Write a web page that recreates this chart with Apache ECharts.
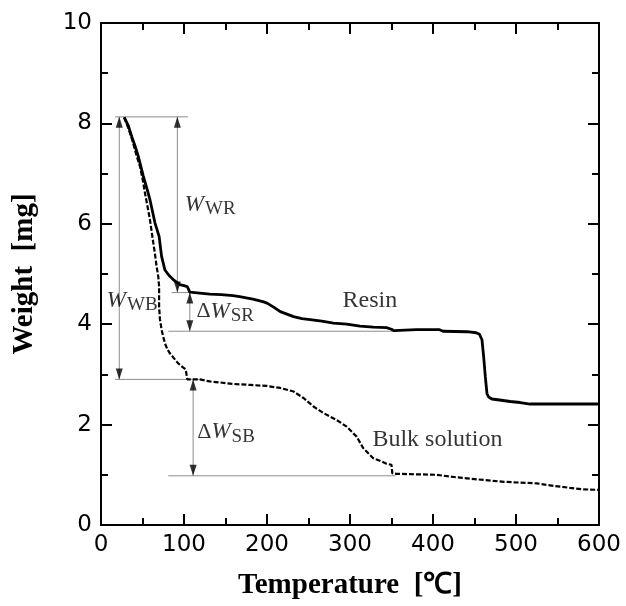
<!DOCTYPE html>
<html><head><meta charset="utf-8">
<script src="https://cdn.jsdelivr.net/npm/echarts@6/dist/echarts.min.js"></script>
<style>html,body{margin:0;padding:0;background:#fff}#c{width:626px;height:606px}</style>
</head><body><div id="c"></div>
<script>
// Temperature [°C], Weight [mg]
const resin = [[28,8.12],[33,7.95],[37,7.74],[41,7.55],[45,7.34],[51,6.95],[55,6.72],[59,6.48],[65,6.02],[70,5.75],[73,5.35],[77,5.08],[82,4.97],[87,4.89],[95,4.79],[100,4.77],[104,4.75],[107,4.64],[119,4.62],[131,4.6],[145,4.59],[159,4.57],[167,4.55],[183,4.5],[195,4.45],[200,4.42],[208,4.34],[216,4.25],[224,4.2],[232,4.15],[242,4.11],[252,4.09],[266,4.06],[280,4.02],[296,4.0],[312,3.96],[328,3.94],[344,3.93],[350,3.9],[353,3.87],[380,3.89],[408,3.89],[412,3.86],[441,3.85],[452,3.83],[456,3.8],[459,3.69],[461,3.36],[463,2.96],[465,2.62],[467,2.55],[471,2.51],[480,2.49],[493,2.46],[505,2.44],[517,2.41],[560,2.41],[600,2.41]];
const bulk = [[28,8.12],[33,7.9],[38,7.65],[43,7.35],[47,7.14],[50,6.9],[53,6.61],[56,6.35],[59,6.08],[61,5.85],[63,5.62],[65,5.4],[67,5.15],[69,4.95],[70,4.75],[70,4.35],[71,4.1],[73,3.89],[75,3.75],[77,3.62],[80,3.5],[83,3.42],[88,3.32],[93,3.22],[98,3.15],[102,3.1],[104,3.08],[104,2.9],[119,2.9],[131,2.86],[143,2.84],[159,2.81],[180,2.79],[200,2.77],[216,2.73],[232,2.66],[244,2.53],[256,2.36],[268,2.23],[284,2.09],[296,1.96],[308,1.76],[316,1.53],[328,1.33],[336,1.28],[344,1.22],[350,1.2],[351,1.03],[356,1.02],[380,1.01],[404,1.0],[428,0.95],[453,0.91],[485,0.86],[525,0.83],[545,0.78],[565,0.74],[581,0.71],[600,0.7]];
// annotation geometry in data units
const arrows = [[22,8.13,2.9],[92,8.13,4.63],[107,4.63,3.86],[111,2.9,0.98]]; // [T, Wtop, Wbottom]
const guides = [[17,105,8.13],[85,120,4.63],[81,352,3.86],[17,120,2.9],[81,355,0.98]]; // [T1, T2, W]
const labels = [
  {pos:[101,6.38], parts:[['w','W'],['s','WR']]},
  {pos:[7,4.47], parts:[['w','W'],['s','WB']]},
  {pos:[115,4.25], parts:[['d','Δ'],['w','W'],['s','SR']]},
  {pos:[116,1.85], parts:[['d','Δ'],['w','W'],['s','SB']]},
  {pos:[291,4.47], parts:[['t','Resin']]},
  {pos:[327,1.69], parts:[['t','Bulk solution']]}
];
const xTicks = {min:0, max:600, interval:100};
const yTicks = {min:0, max:10, interval:2};

const gray = '#8c8c8c';
const series = [];
guides.forEach(g => series.push({type:'line', data:[[g[0],g[2]],[g[1],g[2]]], symbol:'none', silent:true,
  lineStyle:{color:gray, width:1}, z:1}));
const upHeads = [], downHeads = [];
arrows.forEach(a => {
  series.push({type:'line', data:[[a[0],a[1]],[a[0],a[2]]], symbol:'none', silent:true, lineStyle:{color:gray, width:1}, z:1});
  upHeads.push([a[0],a[1]]); downHeads.push([a[0],a[2]]);
});
series.push({type:'scatter', data:upHeads, symbol:'triangle', symbolSize:[7,11], symbolOffset:[0,5.5], itemStyle:{color:'#000'}, z:3, silent:true});
series.push({type:'scatter', data:downHeads, symbol:'triangle', symbolSize:[7,11], symbolRotate:180, symbolOffset:[0,-5.5], itemStyle:{color:'#000'}, z:3, silent:true});
series.push({type:'line', data:resin, symbol:'none', lineStyle:{color:'#000', width:2.8}, z:5});
series.push({type:'line', data:bulk, symbol:'none', lineStyle:{color:'#000', width:2.2, type:[5,2]}, z:5});
labels.forEach(l => {
  series.push({type:'scatter', data:[l.pos], symbolSize:0, silent:true, z:6,
    label:{show:true, position:'right', distance:0,
      formatter: l.parts.map(p => '{'+p[0]+'|'+p[1]+'}').join(''),
      rich:{
        w:{fontFamily:'Liberation Serif', fontStyle:'italic', fontSize:23, color:'#000'},
        d:{fontFamily:'Liberation Serif', fontSize:22, color:'#000'},
        s:{fontFamily:'Liberation Serif', fontSize:19, color:'#000', padding:[9,0,0,1]},
        t:{fontFamily:'Liberation Serif', fontSize:24, color:'#000'}
      }}});
});

const mkLine = () => ({show:true, onZero:false, lineStyle:{color:'#000', width:2, opacity:1}});
const mkTick = () => ({show:true, inside:true, length:11, lineStyle:{color:'#000', width:2}});
const mkMinor = () => ({show:true, splitNumber:2, length:7, lineStyle:{color:'#000', width:2}});
const tickLabel = {fontFamily:'DejaVu Sans', fontSize:23, color:'#000'};

const option = {
  animation:false,
  backgroundColor:'#fff',
  grid:{left:101, right:27, top:23, bottom:81, containLabel:false, outerBoundsMode:'none', show:true, borderColor:'#000', borderWidth:2, backgroundColor:'rgba(0,0,0,0)'},
  xAxis:[
    {type:'value', ...xTicks, position:'bottom', axisLine:mkLine(), axisTick:mkTick(), minorTick:mkMinor(), splitLine:{show:false},
     axisLabel:{...tickLabel, margin:9},
     name:'Temperature  [℃]', nameLocation:'middle', nameGap:46,
     nameTextStyle:{fontFamily:'Liberation Serif', fontWeight:'bold', fontSize:29, color:'#000'}},
    {type:'value', ...xTicks, position:'top', axisLine:mkLine(), axisTick:mkTick(), minorTick:mkMinor(), splitLine:{show:false}, axisLabel:{show:false}}
  ],
  yAxis:[
    {type:'value', ...yTicks, position:'left', axisLine:mkLine(), axisTick:mkTick(), minorTick:mkMinor(), splitLine:{show:false},
     axisLabel:{...tickLabel, margin:9},
     name:'Weight  [mg]', nameLocation:'middle', nameGap:62,
     nameTextStyle:{fontFamily:'Liberation Serif', fontWeight:'bold', fontSize:29, color:'#000'}},
    {type:'value', ...yTicks, position:'right', axisLine:mkLine(), axisTick:mkTick(), minorTick:mkMinor(), splitLine:{show:false}, axisLabel:{show:false}}
  ],
  series: series
};
const chart = echarts.init(document.getElementById('c'), null, {renderer:'canvas'});
chart.setOption(option);
</script></body></html>
